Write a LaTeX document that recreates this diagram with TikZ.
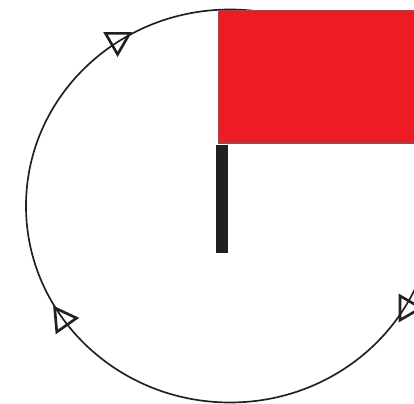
\documentclass[tikz,border=0pt]{standalone}
\usetikzlibrary{shapes.geometric}

\definecolor{rosso}{HTML}{ED1C24}
\definecolor{nero}{HTML}{231F20}

\begin{document}
\begin{tikzpicture}[freccia/.style={regular polygon, regular polygon sides=3, draw=nero, line width=1.5pt, minimum size=0.56cm, inner sep=0pt}]

    % Area del disegno
    \useasboundingbox (0,0) rectangle (8.28,8.08);
    \clip (0,0) rectangle (8.28,8.08);

    % Percorso circolare
    \draw[nero, line width=0.95pt] (4.60,3.96) ellipse [x radius=4.08, y radius=3.93];

    % Frecce di verso (triangoli vuoti)
    \node[freccia, rotate=180] (t1) at (2.352,7.272) {};
    \node[freccia, rotate=35] (t2) at (1.254,1.694) {};
    \node[freccia, rotate=30] (t3) at (8.14,1.92) {};

    % Bandiera
    \fill[rosso] (4.366,5.214) rectangle (8.4,7.88);
    \draw[nero!70, line width=0.4pt] (4.366,5.214) rectangle (8.4,7.88);

    % Asta
    \fill[nero] (4.32,3.026) rectangle (4.554,5.18);

\end{tikzpicture}
\end{document}
